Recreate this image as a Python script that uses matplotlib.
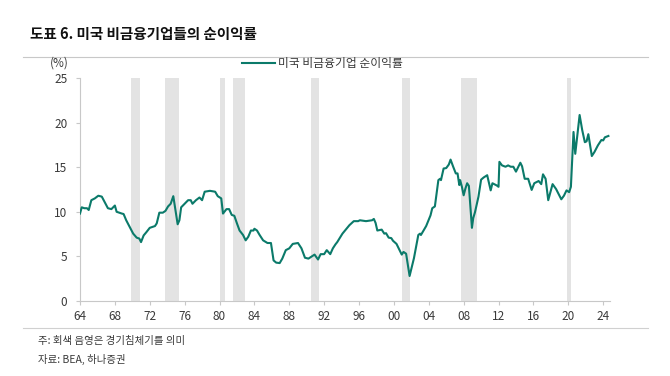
import matplotlib
matplotlib.use("Agg")
import matplotlib.pyplot as plt
from matplotlib.lines import Line2D

plt.rcParams['font.family'] = ['Noto Sans CJK KR', 'DejaVu Sans']

# --- data ---
years = [
    1964.0, 1964.2, 1964.5, 1964.8, 1965.0, 1965.3, 1965.7, 1966.1, 1966.5, 1967.2,
    1967.6, 1968.0, 1968.2, 1968.8, 1969.0, 1969.3, 1970.1, 1970.5, 1970.8, 1971.0,
    1971.3, 1971.6, 1972.0, 1972.6, 1972.8, 1973.1, 1973.5, 1973.8, 1974.1, 1974.4,
    1974.7, 1974.9, 1975.2, 1975.4, 1975.6, 1976.0, 1976.4, 1976.7, 1976.9, 1977.3,
    1977.7, 1978.0, 1978.3, 1978.9, 1979.5, 1979.8, 1980.2, 1980.4, 1980.8, 1981.1,
    1981.4, 1981.7, 1982.0, 1982.3, 1982.7, 1983.0, 1983.3, 1983.6, 1983.9, 1984.0,
    1984.3, 1984.6, 1985.0, 1985.5, 1985.9, 1986.2, 1986.5, 1986.9, 1987.2, 1987.6,
    1988.0, 1988.4, 1989.0, 1989.4, 1989.8, 1990.2, 1990.9, 1991.3, 1991.6, 1992.0,
    1992.3, 1992.7, 1993.0, 1993.3, 1993.5, 1994.1, 1994.9, 1995.4, 1995.9, 1996.1,
    1996.8, 1997.5, 1997.7, 1997.9, 1998.1, 1998.6, 1998.9, 1999.1, 1999.4, 1999.7,
    1999.9, 2000.3, 2000.9, 2001.1, 2001.4, 2001.8, 2002.3, 2002.8, 2003.0, 2003.1,
    2003.4, 2003.7, 2004.2, 2004.4, 2004.7, 2005.1, 2005.3, 2005.4, 2005.7, 2006.0,
    2006.3, 2006.5, 2006.8, 2007.1, 2007.3, 2007.5, 2007.6, 2007.8, 2008.0, 2008.2,
    2008.4, 2008.6, 2008.95, 2009.1, 2009.3, 2009.7, 2010.0, 2010.3, 2010.7, 2011.1,
    2011.3, 2011.8, 2012.0, 2012.1, 2012.4, 2012.8, 2013.1, 2013.4, 2013.7, 2014.0,
    2014.5, 2014.7, 2015.0, 2015.4, 2015.8, 2016.1, 2016.6, 2016.9, 2017.1, 2017.4,
    2017.7, 2018.2, 2018.6, 2019.2, 2019.5, 2019.8, 2020.1, 2020.3, 2020.6, 2020.8,
    2021.0, 2021.3, 2021.6, 2021.9, 2022.1, 2022.3, 2022.7, 2023.0, 2023.4, 2023.8,
    2024.0, 2024.2, 2024.6,
]
margin = [
    9.8, 10.5, 10.4, 10.4, 10.2, 11.3, 11.5, 11.8, 11.7, 10.4,
    10.3, 10.7, 10.0, 9.8, 9.75, 9.05, 7.55, 7.1, 7.0, 6.6,
    7.35, 7.7, 8.2, 8.4, 8.7, 9.9, 9.9, 10.1, 10.6, 10.9,
    11.75, 10.5, 8.6, 9.05, 10.5, 10.9, 11.3, 11.3, 10.9, 11.3,
    11.6, 11.3, 12.25, 12.35, 12.25, 11.75, 11.5, 9.8, 10.3, 10.3,
    9.65, 9.55, 8.7, 7.9, 7.4, 6.8, 7.2, 7.9, 7.9, 8.1,
    7.9, 7.4, 6.8, 6.5, 6.5, 4.55, 4.3, 4.25, 4.75, 5.7,
    5.9, 6.4, 6.5, 5.9, 4.85, 4.75, 5.2, 4.65, 5.25, 5.25,
    5.7, 5.25, 5.9, 6.35, 6.6, 7.55, 8.5, 8.95, 8.95, 9.05,
    8.95, 9.05, 9.2, 8.75, 7.9, 8.0, 7.55, 7.6, 7.1, 7.05,
    6.75, 6.4, 5.2, 5.5, 5.3, 2.8, 4.8, 7.4, 7.55, 7.4,
    7.9, 8.4, 9.6, 10.4, 10.6, 13.55, 13.7, 13.55, 14.85, 14.9,
    15.3, 15.85, 15.05, 14.3, 14.3, 13.0, 13.55, 12.8, 11.85, 12.6,
    13.2, 12.9, 8.2, 9.3, 9.95, 11.7, 13.6, 13.85, 14.1, 12.4,
    13.2, 12.95, 12.8, 15.6, 15.2, 15.05, 15.2, 15.05, 15.05, 14.5,
    15.5, 15.1, 13.7, 13.7, 12.45, 13.2, 13.45, 13.1, 14.2, 13.7,
    11.3, 13.1, 12.55, 11.4, 11.8, 12.4, 12.2, 12.8, 18.95, 16.5,
    18.2, 20.85, 19.15, 17.8, 17.9, 18.7, 16.25, 16.7, 17.45, 18.05,
    18.0, 18.35, 18.5,
]
rec_start = [1969.9, 1973.8, 1980.0, 1981.5, 1990.5, 2000.95, 2007.7, 2019.85]
rec_end = [1970.9, 1975.3, 1980.6, 1982.9, 1991.4, 2001.85, 2009.5, 2020.3]

tick_years = list(range(1964, 2025, 4))
tick_labels = [f"{y % 100:02d}" for y in tick_years]

line_color = "#0b7a6a"
txt = "#3a3a3a"
grid_gray = "#c8c8c8"

fig = plt.figure(figsize=(6.7, 3.76), dpi=100)
ax = fig.add_axes([0.1194, 0.1995, 0.7906, 0.5931])

for s, e in zip(rec_start, rec_end):
    ax.axvspan(s, e, color="#e3e3e3", lw=0, zorder=0)

ax.plot(years, margin, color=line_color, lw=1.5, zorder=3,
        solid_joinstyle="round")

ax.set_xlim(1964, 2024.75)
ax.set_ylim(0, 25)
ax.set_yticks([0, 5, 10, 15, 20, 25])
ax.set_xticks(tick_years)
ax.set_xticklabels(tick_labels)

for sp in ["top", "right"]:
    ax.spines[sp].set_visible(False)
for sp in ["left", "bottom"]:
    ax.spines[sp].set_color(grid_gray)
    ax.spines[sp].set_linewidth(0.8)
ax.tick_params(axis="both", colors=grid_gray, length=3, width=0.8,
               labelcolor=txt, labelsize=8.5)
ax.tick_params(axis="y", pad=6)

# title and rules
fig.text(0.045, 0.91, "도표 6. 미국 비금융기업들의 순이익률", fontsize=10.5,
         fontweight="bold", color="#111111", va="center")
fig.add_artist(Line2D([0.034, 0.967], [0.848, 0.848], color="#c8c8c8", lw=0.8))
fig.add_artist(Line2D([0.034, 0.967], [0.128, 0.128], color="#d0d0d0", lw=0.8))

fig.text(0.075, 0.832, "(%)", fontsize=8.5, color=txt, va="center")

# legend
fig.add_artist(Line2D([0.361, 0.41], [0.832, 0.832], color=line_color, lw=1.5))
fig.text(0.415, 0.832, "미국 비금융기업 순이익률", fontsize=8.5, color=txt,
         va="center")

fig.text(0.057, 0.092, "주: 회색 음영은 경기침체기를 의미", fontsize=7.5,
         color=txt, va="center")
fig.text(0.057, 0.045, "자료: BEA, 하나증권", fontsize=7.5, color=txt,
         va="center")

fig.savefig("out.png", dpi=100, facecolor="white")
